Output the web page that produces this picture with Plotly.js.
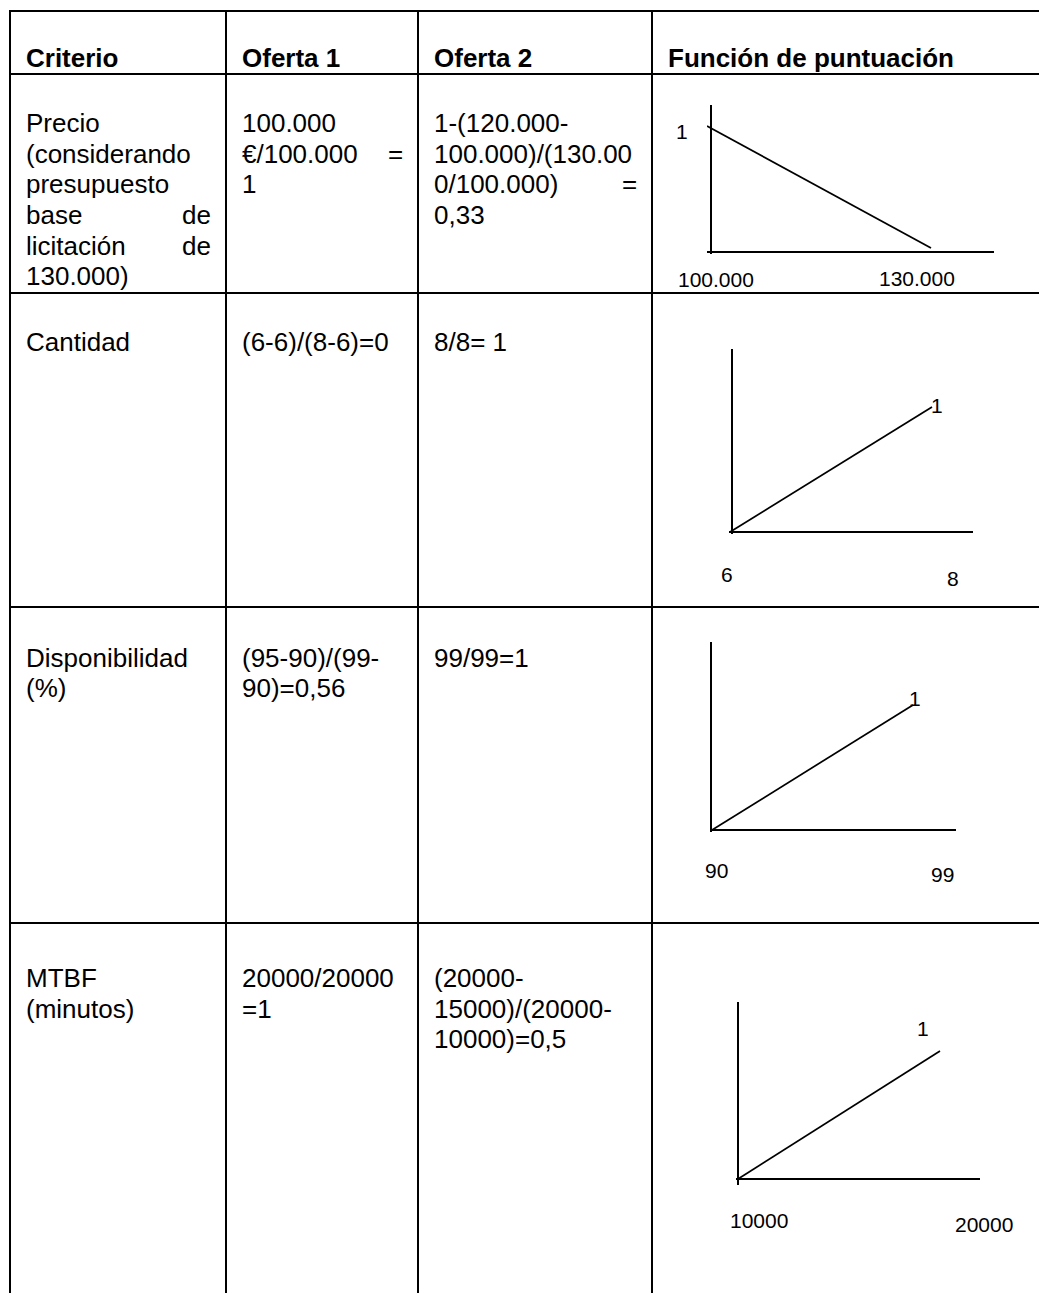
<!DOCTYPE html>
<html>
<head>
<meta charset="utf-8">
<script src="https://cdn.plot.ly/plotly-3.0.1.min.js"></script>
<style>
  html, body { margin: 0; padding: 0; background: #ffffff; }
  #chart { width: 1039px; height: 1293px; }
</style>
</head>
<body>
<div id="chart"></div>
<script>
// ---------------- DATA ----------------
const headers = ['Criterio', 'Oferta 1', 'Oferta 2', 'Función de puntuación'];

// "|" separates a left part and a right-justified trailing word
const criterioLines = [
  ['Precio', '(considerando', 'presupuesto', 'base|de', 'licitación|de', '130.000)'],
  ['Cantidad'],
  ['Disponibilidad', '(%)'],
  ['MTBF', '(minutos)']
];
const oferta1Lines = [
  ['100.000', '€/100.000|=', '1'],
  ['(6-6)/(8-6)=0'],
  ['(95-90)/(99-', '90)=0,56'],
  ['20000/20000', '=1']
];
const oferta2Lines = [
  ['1-(120.000-', '100.000)/(130.00', '0/100.000)|=', '0,33'],
  ['8/8= 1'],
  ['99/99=1'],
  ['(20000-', '15000)/(20000-', '10000)=0,5']
];

// scoring-function sketches
const precioX = [100000, 130000];
const precioY = [1, 0];
const cantidadX = [6, 8];
const cantidadY = [0, 1];
const dispX = [90, 99];
const dispY = [0, 1];
const mtbfX = [10000, 20000];
const mtbfY = [0, 1];

// sketch labels: [max score label, x-start label, x-end label]
const precioLabels = ['1', '100.000', '130.000'];
const cantidadLabels = ['1', '6', '8'];
const dispLabels = ['1', '90', '99'];
const mtbfLabels = ['1', '10000', '20000'];

// ---------------- LAYOUT CONFIG (pixels) ----------------
const W = 1039, H = 1293;
const px = x => x / W;
const py = y => 1 - y / H;

const rowLines = [11, 74, 293, 607, 923];
const colLines = [10, 226, 418, 652];
const tableLeft = 10, tableRight = 1045, tableTop = 11, tableBottom = 1300;
const padL = 15, padR = 14;
const bodyFont = 26, labelFont = 21, lineGap = 30.5;
const firstLineOffsets = [49.5, 49.5, 50.5, 55];  // row line -> centre of first text line
const headerCentre = 58;
const FAMILY = '"Liberation Sans", Arial, Helvetica, sans-serif';

// sketch geometry: vertical axis (vx, vt..vb), horizontal axis (hy, hl..hr),
// data mapping: x0->px0, x1->px1 ; y value 0->py0, 1->py1
const sketches = [
  {x: precioX, y: precioY, labels: precioLabels,
   vx: 711, vt: 105, vb: 254, hy: 252, hl: 707, hr: 994,
   mapX: [707, 931], mapY: [248, 126],
   lab: [[682, 132], [677, 279, 'left'], [878, 278, 'left']]},
  {x: cantidadX, y: cantidadY, labels: cantidadLabels,
   vx: 732, vt: 349, vb: 534, hy: 532, hl: 729, hr: 973,
   mapX: [730, 932], mapY: [532, 407],
   lab: [[937, 406], [727, 575], [953, 579]]},
  {x: dispX, y: dispY, labels: dispLabels,
   vx: 711, vt: 642, vb: 832, hy: 830, hl: 710, hr: 956,
   mapX: [712, 913], mapY: [830, 705],
   lab: [[915, 698], [716, 870], [942, 874]]},
  {x: mtbfX, y: mtbfY, labels: mtbfLabels,
   vx: 738, vt: 1002, vb: 1185, hy: 1179, hl: 736, hr: 980,
   mapX: [738, 940], mapY: [1179, 1051],
   lab: [[923, 1028], [759, 1220], [984, 1224]]}
];

// ---------------- BUILD ----------------
const annotations = [];
const shapes = [];

function addText(text, x, y, opts) {
  opts = opts || {};
  annotations.push({
    text: text, x: px(x), y: py(y), xref: 'paper', yref: 'paper',
    xanchor: opts.anchor || 'left', yanchor: 'middle', showarrow: false,
    font: {family: FAMILY, size: opts.size || bodyFont, color: '#000000'},
    borderpad: 0
  });
}

// table borders
rowLines.forEach(y => shapes.push({type: 'line', xref: 'paper', yref: 'paper',
  x0: px(tableLeft - 1), x1: px(tableRight), y0: py(y), y1: py(y),
  line: {color: '#000000', width: 2}}));
colLines.forEach(x => shapes.push({type: 'line', xref: 'paper', yref: 'paper',
  x0: px(x), x1: px(x), y0: py(tableTop - 1), y1: py(tableBottom),
  line: {color: '#000000', width: 2}}));

// header
headers.forEach((h, i) => addText('<b>' + h + '</b>', colLines[i] + padL, headerCentre));

// body
const columns = [criterioLines, oferta1Lines, oferta2Lines];
columns.forEach((col, ci) => {
  const left = colLines[ci] + padL;
  const right = colLines[ci + 1] - padR;
  col.forEach((lines, ri) => {
    const top = rowLines[ri + 1] + firstLineOffsets[ri];
    lines.forEach((ln, li) => {
      const y = top + li * lineGap;
      const parts = ln.split('|');
      addText(parts[0], left, y);
      if (parts.length > 1) addText(parts[1], right, y, {anchor: 'right'});
    });
  });
});

// sketches as subplots
const traces = [];
const layoutAxes = {};
sketches.forEach((s, i) => {
  const n = i + 1;
  const xa = 'xaxis' + n, ya = 'yaxis' + n;
  const xr = 'x' + n, yr = 'y' + n;
  const ux = (s.x[1] - s.x[0]) / (s.mapX[1] - s.mapX[0]);
  const xRange = [s.x[0] - (s.mapX[0] - s.hl) * ux, s.x[0] + (s.hr - s.mapX[0]) * ux];
  const uy = 1 / (s.mapY[0] - s.mapY[1]);
  const yRange = [0 - (s.vb - s.mapY[0]) * uy, 0 + (s.mapY[0] - s.vt) * uy];
  const common = {showline: true, linecolor: '#000000', linewidth: 2, showgrid: false,
    zeroline: false, showticklabels: false, ticks: '', fixedrange: true, automargin: false};
  layoutAxes[xa] = Object.assign({}, common, {domain: [px(s.hl), px(s.hr)], range: xRange,
    anchor: 'free', position: py(s.hy)});
  layoutAxes[ya] = Object.assign({}, common, {domain: [py(s.vb), py(s.vt)], range: yRange,
    anchor: 'free', position: px(s.vx)});
  traces.push({x: s.x, y: s.y, xaxis: xr, yaxis: yr, type: 'scatter', mode: 'lines',
    line: {color: '#000000', width: 1.7}, hoverinfo: 'skip', showlegend: false});
  s.labels.forEach((t, li) => {
    const L = s.lab[li];
    addText(t, L[0], L[1], {size: labelFont, anchor: L[2] || 'center'});
  });
});

const layout = Object.assign({
  width: W, height: H, autosize: false,
  margin: {l: 0, r: 0, t: 0, b: 0, pad: 0},
  paper_bgcolor: '#ffffff', plot_bgcolor: 'rgba(0,0,0,0)',
  showlegend: false,
  font: {family: FAMILY, color: '#000000'},
  annotations: annotations, shapes: shapes
}, layoutAxes);

Plotly.newPlot('chart', traces, layout, {staticPlot: true, displayModeBar: false});
</script>
</body>
</html>
